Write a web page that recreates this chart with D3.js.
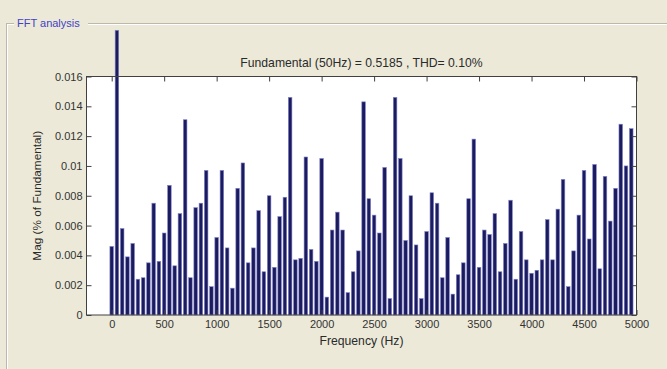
<!DOCTYPE html>
<html>
<head>
<meta charset="utf-8">
<script src="https://cdn.jsdelivr.net/npm/d3@7"></script>
<style>
  html, body { margin: 0; padding: 0; background: #ece9d8; }
  svg { display: block; }
  text { font-family: "Liberation Sans", Arial, sans-serif; }
</style>
</head>
<body>
<svg id="chart" width="667" height="369"></svg>
<script>
// FFT bins, 50 Hz apart (DC up to 4950 Hz)
const binHz = 50;
const frequencies = d3.range(0, 5000, binHz);

// Harmonic magnitudes (% of fundamental); the 50 Hz bin is the fundamental and runs off scale
const magnitudes = [
  0.0046, 0.0191, 0.0058, 0.0039, 0.0048, 0.0024, 0.0025, 0.0035, 0.0075, 0.0036,
  0.0055, 0.0087, 0.0033, 0.0068, 0.0131, 0.0025, 0.0072, 0.0075, 0.0097, 0.0019,
  0.0052, 0.0097, 0.0045, 0.0018, 0.0085, 0.0102, 0.0035, 0.0045, 0.0070, 0.0029,
  0.0080, 0.0032, 0.0066, 0.0079, 0.0146, 0.0037, 0.0038, 0.0106, 0.0044, 0.0036,
  0.0105, 0.0012, 0.0057, 0.0069, 0.0057, 0.0015, 0.0029, 0.0043, 0.0143, 0.0078,
  0.0067, 0.0055, 0.0099, 0.0011, 0.0146, 0.0105, 0.0050, 0.0080, 0.0047, 0.0011,
  0.0056, 0.0082, 0.0075, 0.0025, 0.0052, 0.0014, 0.0027, 0.0035, 0.0078, 0.0118,
  0.0032, 0.0057, 0.0054, 0.0068, 0.0029, 0.0048, 0.0077, 0.0024, 0.0056, 0.0037,
  0.0028, 0.0030, 0.0037, 0.0064, 0.0037, 0.0071, 0.0091, 0.0019, 0.0043, 0.0067,
  0.0097, 0.0051, 0.0101, 0.0031, 0.0093, 0.0063, 0.0085, 0.0128, 0.0100, 0.0125
];

const xTicks = [0, 500, 1000, 1500, 2000, 2500, 3000, 3500, 4000, 4500, 5000];
const yTicks = [0, 0.002, 0.004, 0.006, 0.008, 0.01, 0.012, 0.014, 0.016];
const yTickLabels = ["0", "0.002", "0.004", "0.006", "0.008", "0.01", "0.012", "0.014", "0.016"];

const panelTitle = "FFT analysis";
const chartTitle = "Fundamental (50Hz) = 0.5185 , THD= 0.10%";
const xLabel = "Frequency (Hz)";
const yLabel = "Mag (% of Fundamental)";

const data = frequencies.map((f, i) => ({ f, v: magnitudes[i] }));

const svg = d3.select("#chart");

// Axes box
const box = { left: 86.5, right: 636.5, top: 76.5, bottom: 315 };

const x = d3.scaleLinear().domain([-240, 5000]).range([box.left, box.right]);
const y = d3.scaleLinear().domain([0, 0.016]).range([box.bottom, box.top]);

// Group box frame with its caption
const panel = svg.append("g");
panel.append("rect")
  .attr("x", 6.5).attr("y", 23.5).attr("width", 670).attr("height", 360)
  .attr("fill", "none").attr("stroke", "#bcb9aa");
panel.append("rect")
  .attr("x", 7.5).attr("y", 24.5).attr("width", 670).attr("height", 360)
  .attr("fill", "none").attr("stroke", "#ffffff");
panel.append("rect")
  .attr("x", 14).attr("y", 15).attr("width", 74).attr("height", 16)
  .attr("fill", "#ece9d8");
panel.append("text")
  .attr("x", 17).attr("y", 27)
  .attr("font-size", 11)
  .attr("fill", "#4242c4")
  .text(panelTitle);

// Plot background
svg.append("rect")
  .attr("x", box.left).attr("y", box.top)
  .attr("width", box.right - box.left).attr("height", box.bottom - box.top)
  .attr("fill", "#ffffff");

// Bars
const barHalf = 17; // Hz on each side of the bin centre
svg.append("g")
  .selectAll("rect")
  .data(data)
  .join("rect")
  .attr("x", d => x(d.f - barHalf))
  .attr("width", d => x(d.f + barHalf) - x(d.f - barHalf))
  .attr("y", d => y(d.v))
  .attr("height", d => y(0) - y(d.v))
  .attr("fill", "#1b1b60")
  .attr("stroke", "#8484c8")
  .attr("stroke-width", 0.6);

// Axes, ticks pointing inwards on all four sides
const axisColor = "#404040";
function styleAxis(g) {
  g.select(".domain").remove();
  g.selectAll(".tick line").attr("stroke", axisColor);
  g.selectAll(".tick text")
    .attr("fill", "#333")
    .attr("font-size", 11)
    .attr("font-family", "\"Liberation Sans\", Arial, sans-serif");
}

svg.append("g")
  .attr("transform", `translate(${box.left},0)`)
  .call(d3.axisLeft(y).tickValues(yTicks).tickSize(-5).tickPadding(4)
    .tickFormat((d, i) => yTickLabels[i]))
  .call(styleAxis);

svg.append("g")
  .attr("transform", `translate(${box.right},0)`)
  .call(d3.axisRight(y).tickValues(yTicks).tickSize(-5).tickFormat(""))
  .call(styleAxis);

svg.append("g")
  .attr("transform", `translate(0,${box.top})`)
  .call(d3.axisTop(x).tickValues(xTicks).tickSize(-5).tickFormat(""))
  .call(styleAxis);

svg.append("g")
  .attr("transform", `translate(0,${box.bottom})`)
  .call(d3.axisBottom(x).tickValues(xTicks).tickSize(-5).tickPadding(5)
    .tickFormat(d => String(d)))
  .call(styleAxis);

// Frame around the axes
svg.append("rect")
  .attr("x", box.left).attr("y", box.top)
  .attr("width", box.right - box.left).attr("height", box.bottom - box.top)
  .attr("fill", "none")
  .attr("stroke", axisColor);

// Titles
svg.append("text")
  .attr("x", (box.left + box.right) / 2).attr("y", 67)
  .attr("text-anchor", "middle")
  .attr("font-size", 12.2)
  .attr("fill", "#2a2a2a")
  .text(chartTitle);

svg.append("text")
  .attr("x", (box.left + box.right) / 2).attr("y", 345)
  .attr("text-anchor", "middle")
  .attr("font-size", 12.2)
  .attr("fill", "#2a2a2a")
  .text(xLabel);

svg.append("text")
  .attr("transform", `translate(41,${(box.top + box.bottom) / 2}) rotate(-90)`)
  .attr("text-anchor", "middle")
  .attr("font-size", 11.8)
  .attr("fill", "#2a2a2a")
  .text(yLabel);
</script>
</body>
</html>
